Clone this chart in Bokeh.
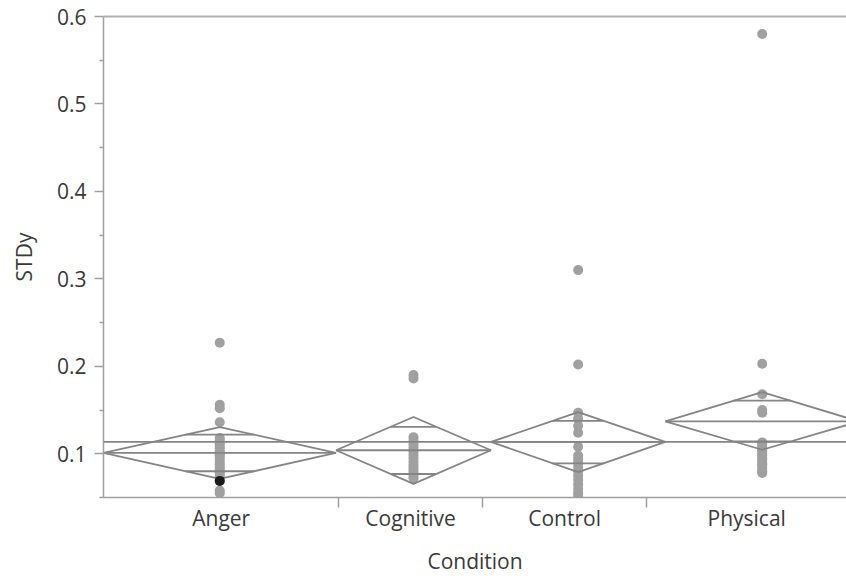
import numpy as np
from bokeh.plotting import figure
from bokeh.models import Range1d, FixedTicker, LinearAxis, Span
from bokeh.embed import file_html
from bokeh.resources import INLINE

# ---- data ----
categories = ["Anger", "Cognitive", "Control", "Physical"]

anger = [0.227, 0.156, 0.152, 0.136, 0.118, 0.115, 0.112, 0.109, 0.106, 0.103,
         0.100, 0.099, 0.097, 0.094, 0.091, 0.088, 0.085, 0.082, 0.079, 0.076,
         0.073, 0.069, 0.058, 0.055]
cognitive = [0.190, 0.186, 0.119, 0.115, 0.111, 0.107, 0.103, 0.099, 0.095,
             0.091, 0.087, 0.084, 0.081, 0.078, 0.075, 0.072]
control = [0.310, 0.202, 0.147, 0.140, 0.132, 0.124, 0.108, 0.098, 0.094,
           0.090, 0.085, 0.080, 0.075, 0.070, 0.065, 0.060, 0.055, 0.051]
physical = [0.580, 0.203, 0.168, 0.150, 0.147, 0.113, 0.110, 0.108, 0.105,
            0.103, 0.100, 0.098, 0.095, 0.093, 0.090, 0.088, 0.086, 0.083,
            0.080, 0.078]

highlight_group = "Anger"     # selected row, drawn black
highlight_value = 0.069

means = [0.101, 0.104, 0.1135, 0.137]
ci_lower = [0.0713, 0.0656, 0.0790, 0.1046]
ci_upper = [0.1305, 0.1420, 0.1477, 0.1705]
grand_mean = 0.1135

sep_ticks = [24.3, 39.1, 56.1]     # category separators on the x axis
x_end = 76.7                        # visible end of the proportional x axis
y_start, y_end = 0.05, 0.6
y_ticks = [0.1, 0.2, 0.3, 0.4, 0.5, 0.6]
y_minor = [0.05, 0.15, 0.25, 0.35, 0.45, 0.55]

# ---- styles ----
FONT = "Open Sans"
TXT = "#3a3a3a"
AX = "#a0a0a0"
LN = "#858585"
PT = "#a0a0a0"

groups = [anger, cognitive, control, physical]
counts = [len(g) for g in groups]
edges = np.concatenate([[0], np.cumsum(counts)]).astype(float)
lefts = edges[:-1]
rights = edges[1:]
centers = (lefts + rights) / 2

p = figure(width=846, height=580, output_backend="svg", toolbar_location=None,
           x_range=Range1d(0, x_end), y_range=Range1d(y_start, y_end),
           min_border_left=103, min_border_right=0, min_border_top=16,
           min_border_bottom=83)
p.outline_line_color = None
p.grid.visible = False
p.background_fill_color = "white"
p.border_fill_color = "white"

# points
xs, ys = [], []
for c, g in zip(centers, groups):
    xs += [c] * len(g)
    ys += g
p.scatter(xs, ys, size=10, fill_color=PT, line_color=None)

# grand mean
p.add_layout(Span(location=grand_mean, dimension="width", line_color=LN, line_width=1.8))

# means diamonds
dx, dy = [], []
mx, my = [], []
r2 = np.sqrt(2)
for l, r, c, m, lo, hi in zip(lefts, rights, centers, means, ci_lower, ci_upper):
    dx.append([l, c, r, c, l])
    dy.append([m, hi, m, lo, m])
    mx.append([l, r]); my.append([m, m])
    hw = (r - l) / 2 * (1 - 1 / r2)
    up = m + (hi - m) / r2
    dn = m - (m - lo) / r2
    mx.append([c - hw, c + hw]); my.append([up, up])
    mx.append([c - hw, c + hw]); my.append([dn, dn])
p.multi_line(dx, dy, line_color=LN, line_width=1.8)
p.multi_line(mx, my, line_color=LN, line_width=1.8)

# highlighted (selected) point
hi_idx = categories.index(highlight_group)
p.scatter([centers[hi_idx]], [highlight_value], size=10, fill_color="#1a1a1a", line_color=None)

# x axis
label_pos = [(a + b) / 2 for a, b in zip([0] + sep_ticks, sep_ticks + [x_end])]
xa = p.xaxis[0]
xa.ticker = FixedTicker(ticks=label_pos, minor_ticks=sep_ticks)
xa.major_label_overrides = {pos: cat for pos, cat in zip(label_pos, categories)}
xa.major_tick_out = 0
xa.major_tick_in = 0
xa.minor_tick_out = 10
xa.minor_tick_in = 0
xa.axis_label = "Condition"

# y axis
ya = p.yaxis[0]
ya.ticker = FixedTicker(ticks=y_ticks, minor_ticks=y_minor)
ya.major_tick_out = 9
ya.major_tick_in = 0
ya.minor_tick_out = 4
ya.minor_tick_in = 0
ya.axis_label = "STDy"

for ax in (xa, ya):
    ax.axis_line_color = AX
    ax.axis_line_width = 1.5
    ax.major_tick_line_color = AX
    ax.minor_tick_line_color = AX
    ax.major_tick_line_width = 1.5
    ax.minor_tick_line_width = 1.5
    ax.major_label_text_font = FONT
    ax.major_label_text_font_size = "21px"
    ax.major_label_text_color = TXT
    ax.axis_label_text_font = FONT
    ax.axis_label_text_font_size = "21px"
    ax.axis_label_text_font_style = "normal"
    ax.axis_label_text_color = TXT
xa.major_label_standoff = -4
xa.axis_label_standoff = 12
ya.major_label_standoff = 8
ya.axis_label_standoff = 16

# top border line
top = LinearAxis(ticker=FixedTicker(ticks=[]), major_label_text_font_size="0px",
                 axis_line_color="#b0b0b0", axis_line_width=2)
p.add_layout(top, "above")

open("out.html", "w").write(file_html(p, INLINE))
